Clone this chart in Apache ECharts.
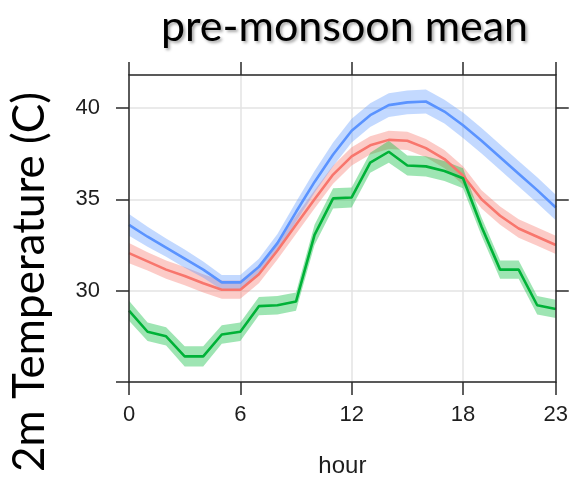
<!DOCTYPE html>
<html>
<head>
<meta charset="utf-8">
<script src="https://cdn.jsdelivr.net/npm/echarts@6/dist/echarts.min.js"></script>
<style>
  html, body { margin: 0; padding: 0; background: #fff; }
  #chart { width: 571px; height: 486px; }
</style>
</head>
<body>
<div id="chart"></div>
<script>
  // ---- data ----
  var hours = ['0','1','2','3','4','5','6','7','8','9','10','11','12','13','14','15','16','17','18','19','20','21','22','23']
  var hourTicks = [0, 6, 12, 18, 23]          // x 刻度
  var tempTicks = [25, 30, 35, 40]            // y 刻度
  var tempLabels = [30, 35, 40]               // y 标签

  var blueMean = [33.6, 32.95, 32.35, 31.75, 31.15, 30.45, 30.45, 31.3, 32.6, 34.3, 35.95, 37.45, 38.75, 39.6, 40.15, 40.3, 40.35, 39.8, 39.05, 38.2, 37.3, 36.4, 35.5, 34.55]
  var blueCi   = [0.6, 0.55, 0.5, 0.5, 0.45, 0.4, 0.4, 0.45, 0.5, 0.55, 0.6, 0.65, 0.65, 0.65, 0.65, 0.65, 0.65, 0.65, 0.7, 0.7, 0.7, 0.7, 0.7, 0.7]

  var redMean  = [32.05, 31.6, 31.15, 30.8, 30.4, 30.05, 30.05, 30.9, 32.2, 33.6, 35.0, 36.35, 37.35, 37.95, 38.25, 38.2, 37.8, 37.2, 36.3, 35.0, 34.1, 33.4, 32.95, 32.5]
  var redCi    = [0.55, 0.5, 0.5, 0.5, 0.5, 0.5, 0.5, 0.5, 0.5, 0.5, 0.5, 0.5, 0.5, 0.5, 0.5, 0.5, 0.5, 0.5, 0.5, 0.5, 0.5, 0.5, 0.5, 0.5]

  var greenMean = [28.9, 27.75, 27.5, 26.4, 26.4, 27.6, 27.75, 29.15, 29.2, 29.4, 33.05, 35.05, 35.1, 37.0, 37.6, 36.85, 36.8, 36.55, 36.15, 33.5, 31.15, 31.15, 29.2, 29.0]
  var greenCi   = [0.55, 0.5, 0.5, 0.55, 0.55, 0.5, 0.5, 0.5, 0.5, 0.5, 0.55, 0.55, 0.55, 0.55, 0.6, 0.55, 0.55, 0.55, 0.55, 0.5, 0.5, 0.5, 0.5, 0.5]

  var axisColor = '#2a2a2a'
  var textColor = '#1e1e1e'

  function isTickHour (idx) {
    return hourTicks.indexOf(idx) >= 0
  }

  // 置信带: 透明下沿 + 堆叠宽度
  function band (name, mean, ci, color) {
    var lower = mean.map(function (v, i) { return +(v - ci[i]).toFixed(3) })
    var width = ci.map(function (c) { return +(2 * c).toFixed(3) })
    return [
      { type: 'line', stack: name, data: lower, symbol: 'none', silent: true,
        lineStyle: { opacity: 0 } },
      { type: 'line', stack: name, data: width, symbol: 'none', silent: true,
        lineStyle: { opacity: 0 }, areaStyle: { color: color, opacity: 0.38 } }
    ]
  }

  function line (mean, color) {
    return { type: 'line', data: mean, symbol: 'none', silent: true, z: 3,
      lineStyle: { color: color, width: 2.6 } }
  }

  var chart = echarts.init(document.getElementById('chart'))
  chart.setOption({
    animation: false,
    title: {
      text: 'pre-monsoon mean',
      left: 156,
      top: 1,
      textStyle: {
        fontFamily: 'Lato',
        fontSize: 43,
        fontWeight: 'normal',
        color: '#000',
        textShadowColor: 'rgba(0,0,0,0.35)',
        textShadowBlur: 3,
        textShadowOffsetX: 2,
        textShadowOffsetY: 2
      }
    },
    graphic: [{
      type: 'text',
      x: 30,
      y: 282,
      rotation: Math.PI / 2,
      style: {
        text: '2m Temperature (C)',
        font: '44px Lato',
        fill: '#000',
        align: 'center',
        verticalAlign: 'middle'
      }
    }],
    grid: { left: 129, right: 14, top: 75, bottom: 104 },
    xAxis: [
      {  // 下轴: 线, 刻度, 标签
        type: 'category', data: hours, boundaryGap: false, position: 'bottom', z: 5,
        axisLine: { lineStyle: { color: axisColor, width: 1.5 } },
        axisTick: { interval: isTickHour, length: 13, lineStyle: { color: axisColor, width: 1.5 } },
        axisLabel: { interval: isTickHour, margin: 22, fontFamily: 'Liberation Sans', fontSize: 22, color: textColor },
        splitLine: { show: false },
        name: 'hour', nameLocation: 'middle', nameGap: 72,
        nameTextStyle: { fontFamily: 'Liberation Sans', fontSize: 24, color: textColor }
      },
      {  // 上轴
        type: 'category', data: hours, boundaryGap: false, position: 'top', z: 5,
        axisLine: { lineStyle: { color: axisColor, width: 1.5 } },
        axisTick: { interval: isTickHour, length: 13, lineStyle: { color: axisColor, width: 1.5 } },
        axisLabel: { show: false },
        splitLine: { show: false }
      },
      {  // 只画网格线
        type: 'category', data: hours, boundaryGap: false, position: 'bottom', z: 0,
        axisLine: { show: false }, axisTick: { show: false }, axisLabel: { show: false },
        splitLine: { show: true, interval: isTickHour, lineStyle: { color: '#e3e3e3', width: 1.5 } }
      }
    ],
    yAxis: [
      {
        type: 'value', min: 25, max: 41.8, interval: 5, position: 'left', z: 5,
        axisLine: { show: true, lineStyle: { color: axisColor, width: 1.5 } },
        axisTick: { show: true, customValues: tempTicks, length: 13, lineStyle: { color: axisColor, width: 1.5 } },
        axisLabel: { customValues: tempLabels, margin: 29, fontFamily: 'Liberation Sans', fontSize: 22, color: textColor },
        splitLine: { show: false }
      },
      {
        type: 'value', min: 25, max: 41.8, interval: 5, position: 'right', z: 5,
        axisLine: { show: true, lineStyle: { color: axisColor, width: 1.5 } },
        axisTick: { show: true, customValues: tempLabels, length: 13, lineStyle: { color: axisColor, width: 1.5 } },
        axisLabel: { show: false },
        splitLine: { show: false }
      },
      {
        type: 'value', min: 25, max: 41.8, interval: 5, position: 'left', z: 0,
        axisLine: { show: false }, axisTick: { show: false }, axisLabel: { show: false },
        splitLine: { show: true, lineStyle: { color: '#e3e3e3', width: 1.5 } }
      }
    ],
    series: [].concat(
      band('red', redMean, redCi, '#F8766D'),
      band('blue', blueMean, blueCi, '#619CFF'),
      band('green', greenMean, greenCi, '#00BA38'),
      [
        line(redMean, '#F8766D'),
        line(blueMean, '#5A93FF'),
        line(greenMean, '#00B238')
      ]
    )
  })
</script>
</body>
</html>
